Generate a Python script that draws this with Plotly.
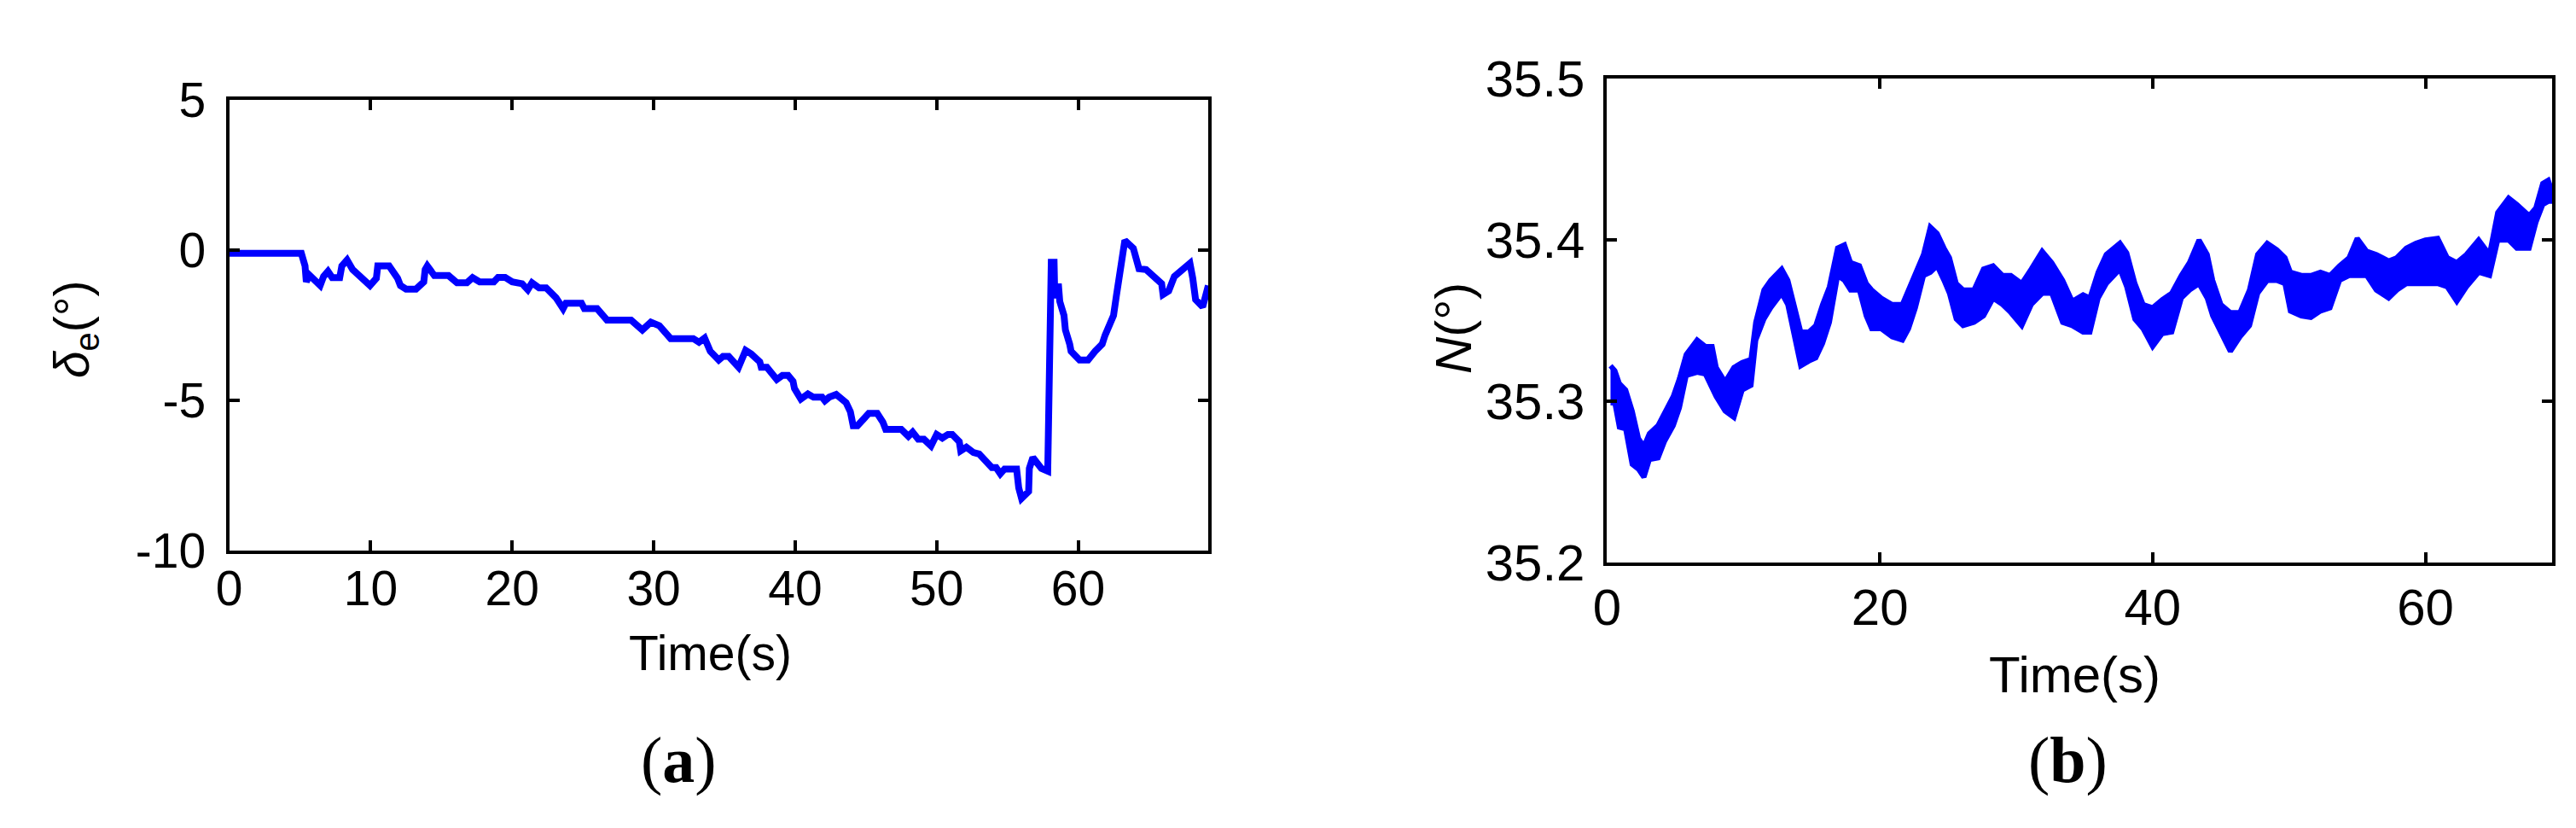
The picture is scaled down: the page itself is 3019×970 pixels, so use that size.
import plotly.graph_objects as go

# ---- panel (a): elevator deflection delta_e (deg) vs time (s)
de_time = [0, 5.1, 5.36, 5.45, 5.66, 6.43, 6.67, 6.98, 7.28, 7.81,
           7.96, 8.33, 8.72, 9.95, 10.4, 10.5, 11.3, 11.9, 12.1, 12.5,
           13.2, 13.75, 13.85, 14.0, 14.5, 15.5, 16.1, 16.8, 17.2, 17.7,
           18.7, 19.0, 19.5, 20.0, 20.7, 21.1, 21.4, 21.9, 22.4, 23.1,
           23.6, 23.8, 24.9, 25.1, 26.0, 26.7, 28.4, 29.2, 29.8, 30.4,
           31.2, 32.8, 33.2, 33.6, 34.0, 34.6, 34.9, 35.3, 36.0, 36.5,
           36.9, 37.5, 37.6, 38.0, 38.7, 39.1, 39.5, 39.85, 39.95, 40.4,
           40.9, 41.3, 41.9, 42.1, 42.4, 42.9, 43.6, 43.9, 44.1, 44.4,
           45.2, 45.8, 46.2, 46.4, 47.5, 48.0, 48.3, 48.7, 49.1, 49.6,
           50.0, 50.4, 50.8, 51.1, 51.6, 51.7, 52.1, 52.6, 53.0, 53.9,
           54.2, 54.5, 54.8, 55.65, 55.8, 56.0, 56.5, 56.55, 56.8, 57.4,
           57.85, 57.9, 58.0, 58.1, 58.3, 58.35, 58.6, 58.7, 59.0, 59.1,
           59.4, 59.5, 60.1, 60.7, 61.2, 61.7, 61.9, 62.3, 62.5, 62.7,
           62.9, 63.1, 63.3, 63.9, 64.1, 64.3, 64.8, 65.4, 65.9, 66.0,
           66.4, 66.8, 67.4, 67.9, 68.1, 68.3, 68.8, 69.2]
de_value = [-0.1, -0.1, -0.52, -1.05, -0.82, -1.17, -0.87, -0.70, -0.91, -0.91,
            -0.52, -0.32, -0.64, -1.17, -0.93, -0.52, -0.52, -0.93, -1.17, -1.29,
            -1.29, -1.05, -0.64, -0.52, -0.84, -0.84, -1.08, -1.08, -0.91, -1.05,
            -1.05, -0.90, -0.90, -1.05, -1.11, -1.31, -1.08, -1.25, -1.25, -1.58,
            -1.94, -1.76, -1.76, -1.94, -1.94, -2.32, -2.32, -2.65, -2.39, -2.51,
            -2.94, -2.94, -3.06, -2.92, -3.36, -3.65, -3.53, -3.53, -3.89, -3.33,
            -3.45, -3.71, -3.89, -3.89, -4.30, -4.16, -4.16, -4.36, -4.60, -4.95,
            -4.78, -4.89, -4.89, -5.01, -4.89, -4.80, -5.07, -5.37, -5.84, -5.84,
            -5.43, -5.43, -5.72, -5.96, -5.96, -6.19, -6.05, -6.29, -6.29, -6.51,
            -6.13, -6.25, -6.13, -6.13, -6.37, -6.67, -6.55, -6.73, -6.78, -7.23,
            -7.23, -7.44, -7.28, -7.28, -7.91, -8.26, -8.03, -7.26, -6.90, -7.26,
            -7.35, -5.07, -4.18, -0.40, -0.40, -1.58, -1.11, -1.70, -2.17, -2.65,
            -3.12, -3.36, -3.65, -3.65, -3.36, -3.12, -2.83, -2.47, -2.17, -1.52,
            -0.76, 0.01, 0.33, 0.07, -0.31, -0.61, -0.64, -0.93, -1.11, -1.47,
            -1.35, -0.87, -0.64, -0.43, -0.93, -1.64, -1.88, -1.17]
de_ticks = [-10, -5, 0, 5]
de_ticktext = ['-10', '-5', '0', '5']

# ---- panel (b): N (deg) vs time (s); noisy signal read as upper / lower envelope
n_time = [0.25, 0.57, 0.9, 1.36, 1.84, 2.3, 2.7, 3.1, 3.74, 4.2,
          4.85, 5.3, 5.8, 6.6, 7.2, 7.7, 8.0, 8.65, 9.3, 9.9,
          10.55, 10.9, 11.5, 12.0, 12.8, 13.25, 13.7, 14.2, 14.8, 15.3,
          15.8, 16.3, 16.9, 17.4, 17.85, 18.5, 19.0, 19.4, 20.1, 20.9,
          21.65, 22.1, 22.6, 23.2, 23.7, 24.2, 24.7, 25.1, 25.6, 26.1,
          26.9, 27.6, 28.3, 29.0, 29.6, 30.4, 31.1, 31.9, 32.6, 33.4,
          34.1, 34.9, 35.4, 36.0, 36.6, 37.1, 37.6, 38.1, 38.7, 39.3,
          40.0, 40.7, 41.4, 42.1, 42.7, 43.4, 44.0, 44.4, 45.0, 45.7,
          46.4, 47.1, 47.7, 48.4, 49.1, 49.7, 50.1, 50.9, 51.6, 52.3,
          53.0, 53.7, 54.4, 55.0, 55.7, 56.4, 57.3, 57.9, 58.6, 59.3,
          60.0, 60.9, 61.6, 62.3, 63.0, 63.9, 64.7, 65.3, 66.1, 66.7,
          67.6, 68.1, 68.6, 69.0, 69.3]
n_upper = [35.322, 35.319, 35.311, 35.307, 35.294, 35.277, 35.272, 35.280, 35.285, 35.292,
           35.303, 35.314, 35.329, 35.338, 35.334, 35.334, 35.321, 35.312, 35.321, 35.324,
           35.326, 35.349, 35.369, 35.375, 35.382, 35.375, 35.360, 35.343, 35.343, 35.347,
           35.360, 35.371, 35.395, 35.397, 35.386, 35.384, 35.373, 35.369, 35.364, 35.360,
           35.360, 35.369, 35.378, 35.391, 35.408, 35.404, 35.395, 35.389, 35.373, 35.369,
           35.369, 35.382, 35.384, 35.378, 35.378, 35.373, 35.382, 35.393, 35.386, 35.375,
           35.362, 35.366, 35.364, 35.380, 35.391, 35.395, 35.398, 35.392, 35.373, 35.360,
           35.358, 35.363, 35.367, 35.378, 35.386, 35.400, 35.391, 35.375, 35.360, 35.355,
           35.355, 35.369, 35.391, 35.398, 35.394, 35.389, 35.380, 35.378, 35.378, 35.380,
           35.378, 35.384, 35.389, 35.401, 35.393, 35.391, 35.387, 35.389, 35.395, 35.398,
           35.400, 35.401, 35.389, 35.386, 35.391, 35.400, 35.391, 35.417, 35.426, 35.422,
           35.415, 35.420, 35.435, 35.437, 35.430]
n_lower = [35.299, 35.299, 35.284, 35.283, 35.261, 35.258, 35.253, 35.264, 35.265, 35.275,
           35.285, 35.296, 35.316, 35.318, 35.317, 35.307, 35.303, 35.294, 35.290, 35.307,
           35.310, 35.338, 35.351, 35.358, 35.367, 35.360, 35.343, 35.322, 35.325, 35.327,
           35.336, 35.349, 35.378, 35.375, 35.369, 35.369, 35.353, 35.345, 35.345, 35.340,
           35.338, 35.345, 35.358, 35.378, 35.380, 35.384, 35.375, 35.367, 35.351, 35.347,
           35.349, 35.353, 35.364, 35.360, 35.355, 35.347, 35.360, 35.367, 35.367, 35.349,
           35.347, 35.343, 35.343, 35.364, 35.373, 35.378, 35.382, 35.371, 35.351, 35.345,
           35.334, 35.342, 35.343, 35.364, 35.369, 35.373, 35.364, 35.353, 35.343, 35.331,
           35.340, 35.347, 35.367, 35.375, 35.375, 35.373, 35.356, 35.353, 35.352, 35.356,
           35.358, 35.375, 35.378, 35.378, 35.378, 35.369, 35.364, 35.369, 35.373, 35.373,
           35.373, 35.373, 35.371, 35.362, 35.371, 35.380, 35.378, 35.400, 35.400, 35.395,
           35.395, 35.411, 35.422, 35.424, 35.424]

BLUE = '#0000FF'
SANS = 'Arial, Liberation Sans, sans-serif'
SERIF = 'Times New Roman, Liberation Serif, serif'
W, H = 3019, 970

fig = go.Figure()

# panel (a) line
fig.add_trace(go.Scatter(
    x=de_time, y=de_value, mode='lines',
    line=dict(color=BLUE, width=8),
    xaxis='x', yaxis='y', showlegend=False
))

# panel (b) band: lower edge then upper edge filled to it
fig.add_trace(go.Scatter(
    x=n_time, y=n_lower, mode='lines',
    line=dict(color=BLUE, width=6),
    xaxis='x2', yaxis='y2', showlegend=False
))
fig.add_trace(go.Scatter(
    x=n_time, y=n_upper, mode='lines',
    line=dict(color=BLUE, width=6),
    fill='tonexty', fillcolor=BLUE,
    xaxis='x2', yaxis='y2', showlegend=False
))

axis_style = dict(
    showline=True, linecolor='black', linewidth=4, mirror='ticks',
    ticks='inside', ticklen=12, tickwidth=4, tickcolor='black',
    showgrid=False, zeroline=False,
)

fig.update_layout(
    width=W, height=H,
    margin=dict(l=0, r=0, t=0, b=0),
    paper_bgcolor='white', plot_bgcolor='white',
    xaxis=dict(domain=[245 / W, 1399 / W], range=[0, 69.2], dtick=10,
               tickfont=dict(family=SANS, size=57, color='black'),
               ticklabelstandoff=-9, anchor='y', **axis_style),
    yaxis=dict(domain=[1 - 649 / H, 1 - 82 / H], range=[-10, 5],
               tickvals=de_ticks, ticktext=de_ticktext,
               tickfont=dict(family=SANS, size=57, color='black'),
               ticklabelstandoff=12, anchor='x', **axis_style),
    xaxis2=dict(domain=[1869 / W, 2983 / W], range=[0, 69.3], dtick=20,
                tickfont=dict(family=SANS, size=60, color='black'),
                ticklabelstandoff=-3, anchor='y2', **axis_style),
    yaxis2=dict(domain=[1 - 664 / H, 1 - 55 / H], range=[35.2, 35.5],
                dtick=0.1, tickformat='.1f',
                tickfont=dict(family=SANS, size=60, color='black'),
                ticklabelstandoff=10, anchor='x2', **axis_style),
)

# axis titles and panel labels
notes = [
    dict(x=812 / W, y=1 - 778 / H, text='Time(s)', size=57, family=SANS, angle=0),
    dict(x=2420 / W, y=1 - 805 / H, text='Time(s)', size=60, family=SANS, angle=0),
    dict(x=64 / W, y=1 - 370 / H, text='<i>δ</i><sub>e</sub>(°)', size=57, family=SANS, angle=-90),
    dict(x=1688 / W, y=1 - 369 / H, text='<i>N</i>(°)', size=60, family=SANS, angle=-90),
    dict(x=775 / W, y=1 - 912 / H, text='(<b>a</b>)', size=76, family=SERIF, angle=0),
    dict(x=2412 / W, y=1 - 912 / H, text='(<b>b</b>)', size=76, family=SERIF, angle=0),
]
for n in notes:
    fig.add_annotation(
        x=n['x'], y=n['y'], xref='paper', yref='paper',
        text=n['text'], showarrow=False, textangle=n['angle'],
        xanchor='center', yanchor='middle',
        font=dict(family=n['family'], size=n['size'], color='black')
    )

fig.write_html("out.html")
